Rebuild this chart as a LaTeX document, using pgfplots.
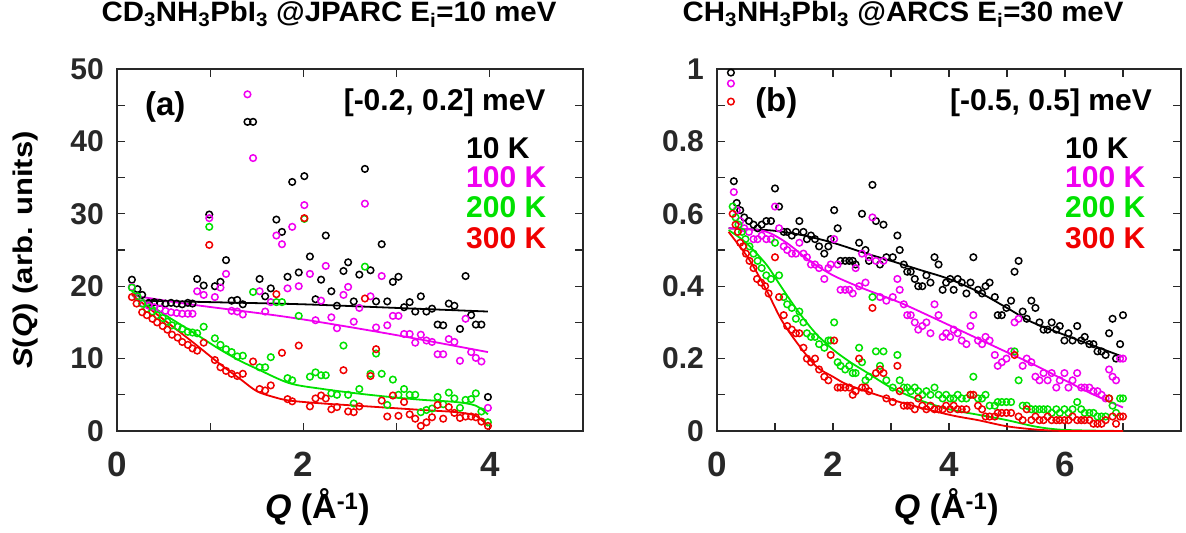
\documentclass[border=0pt]{standalone}
\usepackage{fontspec}
\setmainfont{Liberation Sans}
\newfontfamily\titlefont[FakeStretch=1.05]{Liberation Sans}
\newfontfamily\ylabfont[FakeStretch=1.15]{Liberation Sans}
\usepackage{pgfplots}
\pgfplotsset{compat=1.18}
\definecolor{cmag}{RGB}{240,0,240}
\definecolor{cgrn}{RGB}{0,225,0}
\definecolor{cred}{RGB}{240,0,0}
\definecolor{cax}{RGB}{40,40,40}
\tikzset{ann/.style={font=\fontsize{30bp}{32bp}\selectfont\bfseries, inner sep=0pt}}
\pgfplotsset{
  myaxis/.style={
    scale only axis, height=362bp,
    axis line style={line width=1.5bp, cax},
    every tick/.style={cax, line width=1.3bp},
    major tick length=8bp, minor tick length=8bp,
    /pgf/number format/assume math mode=true,
    yticklabel style={font=\fontsize{30bp}{30bp}\selectfont\bfseries, text=cax, inner sep=0pt, xshift=-13bp},
    xticklabel style={font=\fontsize{35bp}{35bp}\selectfont\bfseries, text=cax, inner sep=0pt, yshift=-21bp},
    title style={font=\titlefont\fontsize{28bp}{30bp}\selectfont\bfseries, anchor=center},
    xlabel style={font=\fontsize{34bp}{36bp}\selectfont\bfseries, anchor=center},
    ylabel style={font=\ylabfont\fontsize{27bp}{29bp}\selectfont\bfseries, anchor=center, rotate=0},
  },
  pts/.style={only marks, mark=o, mark size=3.3bp, mark options={line width=1.5bp}},
  fit/.style={no marks, line width=1.8bp, smooth},
}
\begin{document}
\begin{tikzpicture}
\path[use as bounding box] (0,0) rectangle (1186bp,-533bp);
% ---------------- panel (a)
\begin{axis}[myaxis, at={(117bp,-431bp)}, anchor=south west, width=466bp,
  xmin=0, xmax=5, ymin=0, ymax=50,
  xtick={0,2,4}, minor xtick={1,3},
  ytick={0,10,20,30,40,50}, minor ytick={5,15,25,35,45},
  title={CD\textsubscript{3}NH\textsubscript{3}PbI\textsubscript{3} @JPARC E\textsubscript{i}=10 meV},
  title style={at={(axis description cs:0.455,1.135)}},
  xlabel={\textit{Q} (Å\textsuperscript{-1})},
  xlabel style={at={(axis description cs:0.43,-0.21)}},
  ylabel={\textit{S}(\textit{Q}) (arb. units)},
  ylabel style={at={(axis description cs:-0.197,0.5)}},
]
\addplot[pts, black] coordinates {
(0.16,20.9)(0.22,19.6)(0.27,18.8)(0.34,17.7)(0.40,17.8)(0.46,17.7)(0.52,17.6)(0.58,17.7)(0.64,17.6)(0.70,17.5)(0.76,17.7)(0.81,17.6)
(0.86,21.0)(0.93,20.1)(0.99,29.9)(1.05,20.0)(1.11,20.6)(1.17,23.6)(1.23,18.0)(1.29,18.1)(1.35,17.5)(1.40,42.7)(1.46,42.7)
(1.53,21.0)(1.59,18.6)(1.65,19.7)(1.71,29.2)(1.77,27.5)(1.83,21.3)(1.88,34.4)(1.95,21.9)(2.01,35.2)(2.07,24.1)(2.13,18.2)
(2.19,20.9)(2.24,27.0)(2.30,19.3)(2.36,17.3)(2.43,22.1)(2.48,23.3)(2.54,17.9)(2.60,21.6)(2.66,36.2)(2.72,22.2)(2.78,17.9)
(2.84,25.8)(2.90,17.9)(2.96,20.6)(3.02,21.3)(3.08,17.1)(3.14,17.8)(3.20,16.5)(3.26,18.6)(3.32,16.5)(3.38,16.9)(3.44,14.7)
(3.50,14.6)(3.56,17.6)(3.62,17.3)(3.68,14.1)(3.74,21.4)(3.80,16.0)(3.85,14.7)(3.91,14.7)(3.98,4.7)};
\addplot[pts, cmag] coordinates {
(0.16,19.9)(0.22,18.5)(0.28,17.6)(0.34,17.3)(0.40,17.1)(0.46,16.9)(0.52,16.6)(0.58,16.4)(0.64,16.3)(0.70,16.2)(0.76,16.2)(0.81,16.2)
(0.86,19.3)(0.93,18.8)(0.99,29.4)(1.05,18.5)(1.11,19.8)(1.17,21.7)(1.23,16.6)(1.29,16.5)(1.35,16.1)(1.40,46.5)(1.46,37.7)
(1.53,19.3)(1.59,16.5)(1.65,17.8)(1.71,27.0)(1.77,25.8)(1.83,19.7)(1.88,28.2)(1.95,20.0)(2.01,31.2)(2.07,21.7)(2.13,15.3)
(2.19,18.0)(2.24,22.8)(2.30,15.7)(2.36,14.2)(2.43,18.8)(2.48,19.9)(2.54,15.1)(2.60,17.0)(2.66,31.4)(2.72,18.6)(2.78,14.3)
(2.84,21.4)(2.90,14.6)(2.96,15.9)(3.02,15.9)(3.08,13.4)(3.14,13.4)(3.20,12.2)(3.26,13.3)(3.32,12.5)(3.38,12.3)(3.44,10.6)
(3.50,10.6)(3.56,12.7)(3.62,12.3)(3.68,9.7)(3.74,15.5)(3.80,10.9)(3.85,10.1)(3.91,9.6)(3.98,3.2)};
\addplot[pts, cgrn] coordinates {
(0.16,19.8)(0.22,18.6)(0.27,17.6)(0.32,16.9)(0.38,16.5)(0.43,16.0)(0.49,15.6)(0.54,15.1)(0.59,14.6)(0.65,14.4)(0.70,14.1)
(0.76,13.7)(0.81,13.6)(0.86,13.5)(0.93,14.4)(0.99,28.2)(1.05,12.8)(1.11,11.9)(1.17,11.3)(1.23,10.9)(1.29,10.3)(1.35,10.4)
(1.46,19.2)(1.53,8.8)(1.59,8.8)(1.65,10.2)(1.71,17.8)(1.77,17.8)(1.83,7.3)(1.88,7.0)(1.95,15.9)(2.01,29.3)(2.07,7.5)
(2.13,8.1)(2.19,7.7)(2.24,7.7)(2.30,5.2)(2.36,5.0)(2.43,11.8)(2.48,5.0)(2.54,3.8)(2.60,5.8)(2.66,22.7)(2.72,7.9)(2.78,10.7)
(2.84,7.9)(2.90,3.6)(2.96,7.1)(3.02,5.0)(3.08,5.8)(3.14,5.0)(3.20,5.0)(3.26,2.6)(3.32,2.9)(3.38,3.1)(3.44,4.7)(3.50,3.7)
(3.56,5.3)(3.62,4.5)(3.68,3.2)(3.74,4.3)(3.80,4.4)(3.85,5.2)(3.91,2.7)(3.98,1.2)};
\addplot[pts, cred] coordinates {
(0.16,18.5)(0.21,17.6)(0.27,16.4)(0.32,16.0)(0.38,15.5)(0.43,15.0)(0.49,14.5)(0.54,14.0)(0.59,13.3)(0.65,12.9)(0.70,12.3)
(0.76,11.9)(0.81,11.4)(0.86,11.1)(0.93,12.2)(0.99,25.7)(1.05,9.8)(1.11,8.8)(1.17,8.3)(1.23,7.9)(1.29,7.6)(1.35,7.9)
(1.46,9.6)(1.53,5.8)(1.59,5.6)(1.65,6.3)(1.71,18.9)(1.77,10.8)(1.83,4.4)(1.88,4.1)(1.95,11.8)(2.01,29.4)(2.07,3.4)
(2.13,4.5)(2.19,4.9)(2.24,4.5)(2.30,3.0)(2.36,3.3)(2.43,8.4)(2.48,2.7)(2.54,2.6)(2.60,3.4)(2.66,18.3)(2.72,7.6)(2.78,11.3)
(2.84,4.2)(2.90,2.0)(2.96,4.9)(3.02,2.1)(3.08,4.0)(3.14,2.3)(3.20,1.7)(3.26,0.7)(3.32,1.2)(3.38,1.9)(3.44,3.6)(3.50,1.7)
(3.56,3.3)(3.62,2.5)(3.68,1.8)(3.74,2.0)(3.80,2.0)(3.85,1.9)(3.91,1.3)(3.98,0.7)};
\addplot[fit, black] coordinates {(0.3,18.0)(1,17.8)(2,17.5)(3,17.0)(3.98,16.5)};
\addplot[fit, cmag] coordinates {(0.18,18.7)(0.78,17.5)(1.85,15.7)(2.93,13.4)(3.98,10.9)};
\addplot[fit, cgrn] coordinates {(0.16,19.3)(0.46,16.5)(0.82,13.6)(1.10,11.3)(1.32,9.7)(1.5,8.6)(1.85,6.6)(2.21,5.8)(2.57,5.2)(2.93,4.7)(3.28,4.3)(3.64,4.0)(3.85,3.5)(3.98,2.3)};
\addplot[fit, cred] coordinates {(0.16,18.8)(0.46,15.8)(0.82,12.2)(1.10,9.3)(1.32,7.2)(1.5,5.5)(1.68,4.7)(1.85,4.2)(2.21,3.8)(2.57,3.5)(3.28,2.9)(3.64,2.6)(3.85,2.1)(3.98,0.7)};
\node[ann, anchor=west] at (rel axis cs:0.06,0.895) {\fontsize{33bp}{35bp}\selectfont (a)};
\node[ann, anchor=east] at (rel axis cs:0.92,0.906) {[-0.2, 0.2] meV};
\node[ann, anchor=west, text=black] at (rel axis cs:0.749,0.782) {10 K};
\node[ann, anchor=west, text=cmag] at (rel axis cs:0.749,0.702) {100 K};
\node[ann, anchor=west, text=cgrn] at (rel axis cs:0.749,0.617) {200 K};
\node[ann, anchor=west, text=cred] at (rel axis cs:0.749,0.533) {300 K};
\end{axis}
% ---------------- panel (b)
\begin{axis}[myaxis, at={(717bp,-431bp)}, anchor=south west, width=464bp,
  xmin=0, xmax=8, ymin=0, ymax=1,
  xtick={0,2,4,6}, minor xtick={1,3,5,7},
  ytick={0,0.2,0.4,0.6,0.8,1}, minor ytick={0.1,0.3,0.5,0.7,0.9},
  title={CH\textsubscript{3}NH\textsubscript{3}PbI\textsubscript{3} @ARCS E\textsubscript{i}=30 meV},
  title style={at={(axis description cs:0.401,1.135)}},
  xlabel={\textit{Q} (Å\textsuperscript{-1})},
  xlabel style={at={(axis description cs:0.494,-0.21)}},
]
\addplot[pts, black] coordinates {
(0.24,0.99)(0.29,0.69)(0.34,0.63)(0.40,0.61)(0.47,0.59)(0.55,0.58)(0.63,0.57)(0.70,0.56)(0.77,0.57)(0.85,0.58)(0.93,0.58)
(1.00,0.67)(1.07,0.62)(1.15,0.55)(1.21,0.55)(1.29,0.54)(1.36,0.55)(1.42,0.58)(1.49,0.55)(1.55,0.53)(1.62,0.54)(1.69,0.53)
(1.76,0.51)(1.85,0.49)(1.92,0.51)(1.96,0.53)(2.02,0.61)(2.08,0.56)(2.13,0.47)(2.21,0.47)(2.28,0.47)(2.34,0.47)(2.39,0.46)
(2.45,0.52)(2.50,0.60)(2.56,0.50)(2.62,0.47)(2.68,0.68)(2.74,0.58)(2.81,0.46)(2.87,0.57)(2.92,0.48)(3.03,0.48)(3.11,0.54)
(3.15,0.50)(3.22,0.46)(3.28,0.44)(3.34,0.44)(3.41,0.42)(3.47,0.40)(3.54,0.40)(3.61,0.43)(3.68,0.41)(3.75,0.48)(3.82,0.46)
(3.89,0.39)(3.95,0.41)(4.02,0.42)(4.08,0.39)(4.15,0.42)(4.22,0.41)(4.30,0.38)(4.37,0.41)(4.42,0.48)(4.50,0.39)(4.57,0.38)
(4.63,0.40)(4.70,0.41)(4.79,0.37)(4.84,0.32)(4.91,0.32)(4.99,0.34)(5.07,0.36)(5.13,0.44)(5.20,0.47)(5.27,0.33)(5.34,0.31)
(5.42,0.36)(5.49,0.34)(5.56,0.30)(5.63,0.28)(5.70,0.28)(5.77,0.30)(5.85,0.28)(5.91,0.29)(5.99,0.25)(6.06,0.27)(6.13,0.25)
(6.21,0.29)(6.28,0.25)(6.34,0.26)(6.42,0.24)(6.49,0.24)(6.56,0.22)(6.63,0.22)(6.70,0.21)(6.76,0.27)(6.82,0.31)(6.88,0.20)
(6.95,0.24)(7.00,0.32)};
\addplot[pts, cmag] coordinates {
(0.24,0.96)(0.29,0.66)(0.34,0.61)(0.40,0.58)(0.47,0.56)(0.55,0.55)(0.63,0.53)(0.70,0.53)(0.77,0.54)(0.85,0.53)(0.93,0.53)
(1.00,0.62)(1.07,0.56)(1.15,0.51)(1.21,0.50)(1.29,0.49)(1.36,0.49)(1.42,0.52)(1.49,0.49)(1.55,0.48)(1.62,0.46)(1.69,0.46)
(1.76,0.45)(1.85,0.42)(1.92,0.45)(1.96,0.46)(2.02,0.53)(2.08,0.46)(2.13,0.39)(2.21,0.39)(2.28,0.39)(2.34,0.38)(2.39,0.45)
(2.45,0.40)(2.50,0.49)(2.56,0.41)(2.62,0.48)(2.68,0.59)(2.74,0.47)(2.81,0.37)(2.87,0.47)(2.92,0.36)(3.03,0.37)(3.11,0.42)
(3.15,0.39)(3.22,0.35)(3.28,0.32)(3.34,0.32)(3.41,0.30)(3.47,0.28)(3.54,0.29)(3.61,0.30)(3.68,0.27)(3.75,0.35)(3.82,0.32)
(3.89,0.26)(3.95,0.27)(4.02,0.26)(4.08,0.28)(4.15,0.27)(4.22,0.25)(4.30,0.24)(4.37,0.29)(4.42,0.32)(4.50,0.25)(4.57,0.24)
(4.63,0.26)(4.70,0.25)(4.79,0.21)(4.84,0.18)(4.91,0.19)(4.99,0.20)(5.07,0.22)(5.13,0.30)(5.20,0.31)(5.27,0.18)(5.34,0.20)
(5.42,0.19)(5.49,0.15)(5.56,0.14)(5.63,0.16)(5.70,0.14)(5.77,0.16)(5.85,0.12)(5.91,0.14)(5.99,0.16)(6.06,0.12)(6.13,0.14)
(6.21,0.16)(6.28,0.12)(6.34,0.12)(6.42,0.12)(6.49,0.11)(6.56,0.11)(6.63,0.10)(6.70,0.09)(6.76,0.17)(6.82,0.15)(6.88,0.14)
(6.95,0.20)(7.00,0.20)};
\addplot[pts, cgrn] coordinates {
(0.27,0.62)(0.32,0.59)(0.37,0.57)(0.43,0.55)(0.49,0.53)(0.56,0.51)(0.63,0.49)(0.70,0.47)(0.77,0.45)(0.85,0.43)(0.93,0.42)
(1.00,0.52)(1.07,0.43)(1.15,0.37)(1.21,0.35)(1.29,0.34)(1.36,0.31)(1.42,0.33)(1.49,0.30)(1.55,0.27)(1.62,0.26)(1.69,0.26)
(1.76,0.24)(1.85,0.23)(1.92,0.25)(1.96,0.25)(2.02,0.30)(2.08,0.19)(2.13,0.18)(2.21,0.17)(2.28,0.18)(2.34,0.16)(2.39,0.16)
(2.45,0.23)(2.50,0.19)(2.56,0.14)(2.62,0.15)(2.68,0.37)(2.74,0.22)(2.81,0.18)(2.87,0.22)(2.92,0.14)(3.03,0.12)(3.11,0.21)
(3.15,0.14)(3.22,0.12)(3.28,0.12)(3.34,0.11)(3.41,0.12)(3.47,0.11)(3.54,0.10)(3.61,0.11)(3.68,0.10)(3.75,0.12)(3.82,0.10)
(3.89,0.09)(3.95,0.10)(4.02,0.09)(4.08,0.09)(4.15,0.10)(4.22,0.09)(4.30,0.09)(4.37,0.10)(4.42,0.15)(4.50,0.09)(4.57,0.09)
(4.63,0.10)(4.70,0.07)(4.79,0.07)(4.84,0.08)(4.91,0.08)(4.99,0.08)(5.07,0.08)(5.13,0.22)(5.20,0.14)(5.27,0.07)(5.34,0.07)
(5.42,0.06)(5.49,0.06)(5.56,0.06)(5.63,0.06)(5.70,0.06)(5.77,0.05)(5.85,0.06)(5.91,0.05)(5.99,0.06)(6.06,0.05)(6.13,0.06)
(6.21,0.08)(6.28,0.06)(6.34,0.05)(6.42,0.05)(6.49,0.05)(6.56,0.04)(6.63,0.04)(6.70,0.04)(6.76,0.09)(6.82,0.07)(6.88,0.05)
(6.95,0.09)(7.00,0.09)};
\addplot[pts, cred] coordinates {
(0.24,0.91)(0.27,0.60)(0.32,0.57)(0.36,0.55)(0.40,0.52)(0.45,0.51)(0.50,0.49)(0.56,0.47)(0.63,0.45)(0.69,0.42)(0.76,0.41)
(0.83,0.40)(0.89,0.38)(1.00,0.48)(1.07,0.37)(1.15,0.32)(1.21,0.29)(1.29,0.28)(1.36,0.27)(1.42,0.27)(1.49,0.23)(1.55,0.20)
(1.62,0.19)(1.69,0.20)(1.76,0.17)(1.85,0.15)(1.92,0.14)(1.96,0.21)(2.02,0.25)(2.08,0.12)(2.13,0.12)(2.21,0.12)(2.28,0.12)
(2.34,0.10)(2.39,0.11)(2.45,0.20)(2.50,0.12)(2.56,0.12)(2.62,0.11)(2.68,0.34)(2.74,0.16)(2.81,0.17)(2.87,0.16)(2.92,0.09)
(3.03,0.08)(3.11,0.18)(3.15,0.11)(3.22,0.07)(3.28,0.07)(3.34,0.07)(3.41,0.06)(3.47,0.09)(3.54,0.07)(3.61,0.06)(3.68,0.07)
(3.75,0.06)(3.82,0.06)(3.89,0.06)(3.95,0.07)(4.02,0.06)(4.08,0.07)(4.15,0.06)(4.22,0.06)(4.30,0.06)(4.37,0.10)(4.42,0.10)
(4.50,0.07)(4.57,0.06)(4.63,0.04)(4.70,0.04)(4.79,0.04)(4.84,0.05)(4.91,0.05)(4.99,0.05)(5.07,0.05)(5.13,0.21)(5.20,0.04)
(5.27,0.03)(5.34,0.06)(5.42,0.03)(5.49,0.04)(5.56,0.03)(5.63,0.03)(5.70,0.04)(5.77,0.03)(5.85,0.03)(5.91,0.03)(5.99,0.03)
(6.06,0.03)(6.13,0.04)(6.21,0.03)(6.28,0.03)(6.34,0.03)(6.42,0.03)(6.49,0.02)(6.56,0.02)(6.63,0.02)(6.70,0.03)(6.76,0.09)
(6.82,0.04)(6.88,0.02)(6.95,0.04)(7.00,0.04)};
\addplot[fit, black] coordinates {(0.2,0.56)(0.6,0.557)(1.0,0.553)(1.5,0.54)(2.0,0.52)(2.58,0.49)(3.0,0.47)(3.5,0.445)(4.0,0.42)(4.5,0.385)(5.0,0.34)(5.44,0.30)(6.0,0.265)(6.5,0.235)(7.0,0.205)};
\addplot[fit, cmag] coordinates {(0.2,0.56)(0.5,0.558)(0.86,0.55)(1.2,0.52)(1.6,0.47)(2.0,0.43)(2.5,0.395)(3.15,0.355)(3.7,0.315)(4.3,0.27)(4.9,0.225)(5.44,0.185)(6.0,0.14)(6.5,0.10)(7.0,0.065)};
\addplot[fit, cgrn] coordinates {(0.2,0.555)(0.5,0.52)(0.85,0.46)(1.1,0.40)(1.4,0.33)(1.7,0.27)(2.0,0.225)(2.3,0.19)(2.6,0.16)(3.0,0.12)(3.5,0.085)(4.0,0.06)(4.5,0.045)(5.0,0.03)(5.5,0.012)(6.0,0.003)(7.0,0.0)};
\addplot[fit, cred] coordinates {(0.2,0.55)(0.55,0.475)(0.85,0.39)(1.1,0.31)(1.35,0.25)(1.7,0.18)(2.0,0.15)(2.3,0.125)(3.15,0.08)(4.0,0.045)(4.5,0.03)(5.0,0.013)(5.5,0.004)(6.0,0.0)(7.0,0.0)};
\node[ann, anchor=west] at (rel axis cs:0.082,0.906) {\fontsize{33bp}{35bp}\selectfont (b)};
\node[ann, anchor=east] at (rel axis cs:0.9375,0.906) {[-0.5, 0.5] meV};
\node[ann, anchor=west, text=black] at (rel axis cs:0.75,0.782) {10 K};
\node[ann, anchor=west, text=cmag] at (rel axis cs:0.75,0.702) {100 K};
\node[ann, anchor=west, text=cgrn] at (rel axis cs:0.75,0.617) {200 K};
\node[ann, anchor=west, text=cred] at (rel axis cs:0.75,0.533) {300 K};
\end{axis}
\end{tikzpicture}
\end{document}
